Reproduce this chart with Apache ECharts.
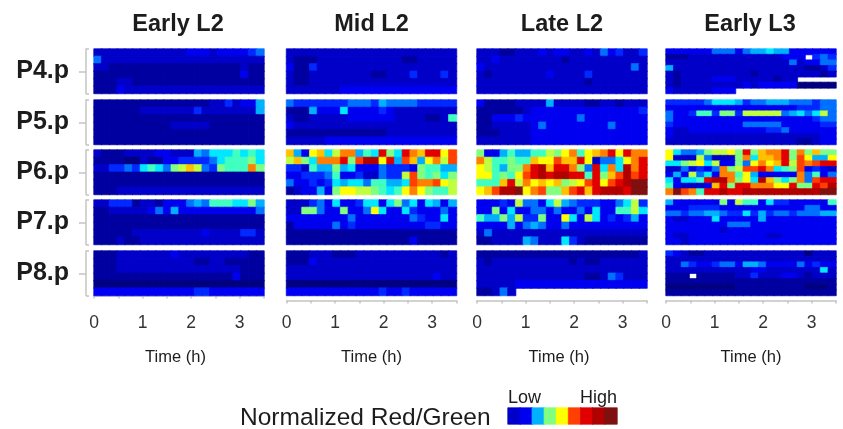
<!DOCTYPE html>
<html><head><meta charset="utf-8">
<style>html,body{margin:0;padding:0;background:#fff}#c{width:843px;height:429px;filter:blur(0.65px)}</style>
<script src="https://cdn.jsdelivr.net/npm/echarts@6/dist/echarts.min.js"></script>
</head><body><div id="c"></div>
<script>
const stages=['Early L2','Mid L2','Late L2','Early L3'];
const lines=['P4.p','P5.p','P6.p','P7.p','P8.p'];
const timeMax=3.5;
const timeLabels=[0,1,2,3];
const palette=['#000080','#0000a0','#0000c8','#0000f0','#0028ff','#0070ff','#00b0ff','#00e8ff','#40ffc0','#80ff80','#c0ff40','#ffff00','#ffc000','#ff8000','#ff4000','#e00000','#b00000','#801010'];
const legendLevels=[2,3,6,9,11,14,15,16,17];
const _=null;

const el2p4=[[2,2,2,2,2,2,2,2,2,2,2,2,3,3,3,2,3,3,3,3,4,5],
[5,2,2,2,2,2,2,2,2,2,2,2,2,2,2,2,2,2,2,2,2,2],
[2,2,1,1,1,1,1,1,1,1,1,1,1,1,1,1,1,1,1,2,1,1],
[1,1,1,1,1,1,1,1,1,1,1,1,1,1,1,1,1,1,1,3,1,1],
[1,1,1,2,2,1,1,1,1,1,1,1,1,1,1,1,1,1,1,1,1,1],
[1,1,1,3,2,2,2,2,2,2,2,2,2,2,2,2,2,2,2,2,2,2]];
const el2p5=[[1,1,1,1,1,1,1,1,1,1,1,1,1,1,1,2,2,4,2,3,3,6],
[1,1,1,1,1,1,2,2,2,2,2,2,2,4,2,2,2,2,2,2,2,6],
[1,1,1,1,1,1,1,1,1,1,1,1,1,1,1,1,1,1,1,1,1,1],
[1,1,1,1,1,1,1,1,1,1,2,2,2,2,2,1,1,1,1,1,1,1],
[1,1,1,1,1,1,1,1,1,1,1,1,1,1,1,1,1,1,1,1,1,1],
[1,1,1,1,1,1,1,1,1,1,1,1,1,1,1,1,1,1,1,1,1,1]];
const el2p6=[[2,1,1,1,2,2,2,2,3,3,2,2,2,6,5,7,7,7,8,7,8,7],
[1,1,1,1,0,0,2,1,1,3,3,4,4,4,4,5,7,8,8,8,9,7],
[2,2,4,4,5,4,7,8,7,5,9,10,12,10,5,4,9,8,8,8,13,9],
[1,1,1,1,1,1,1,1,1,1,1,1,1,1,1,1,1,1,1,1,1,1],
[1,1,1,1,1,1,1,1,1,1,1,1,1,1,1,1,1,1,1,1,1,1],
[1,1,1,2,2,2,2,2,2,2,2,2,2,2,2,2,2,2,2,2,2,2]];
const el2p7=[[2,2,4,4,4,1,2,2,1,3,3,3,5,6,5,8,8,8,7,7,9,6],
[1,1,2,2,2,2,2,3,5,3,6,3,3,3,3,3,3,3,3,3,3,5],
[1,1,1,1,1,1,1,1,1,1,1,1,1,1,1,1,1,1,1,1,1,1],
[1,1,1,1,1,1,1,1,1,1,1,1,1,1,1,1,1,1,1,1,1,1],
[1,1,1,1,1,2,2,2,2,2,2,2,2,2,3,2,2,2,2,4,4,2],
[1,1,1,2,1,1,2,2,2,2,2,2,2,2,2,2,2,2,2,2,2,2]];
const el2p8=[[1,1,1,2,2,2,2,2,2,2,3,2,2,2,2,2,2,2,2,2,1,1],
[1,1,1,2,2,2,2,2,2,2,2,2,2,1,1,2,2,1,1,1,1,1],
[1,1,1,2,2,2,2,2,2,2,2,2,2,2,2,2,2,2,2,1,1,1],
[1,1,1,1,1,1,1,1,1,1,1,1,1,1,1,1,1,1,3,1,1,1],
[0,0,0,0,0,0,0,0,0,0,0,0,0,0,0,0,0,0,0,0,0,0],
[3,3,3,3,3,3,3,3,3,3,3,3,3,4,4,3,3,3,3,3,3,3]];

const ml2p4=[[2,2,2,2,2,2,2,2,2,2,2,2,2,2,2,2,2,2,2,2,2,2],
[2,1,1,1,2,2,2,2,2,2,2,2,2,2,2,1,1,2,2,2,2,2],
[3,1,1,4,2,2,2,2,2,2,2,2,2,2,2,2,2,2,2,2,2,2],
[2,1,1,2,2,2,2,2,2,2,2,1,1,2,2,2,4,2,2,2,4,2],
[2,1,1,2,2,2,2,2,2,2,2,2,2,2,2,2,2,2,2,2,2,2],
[2,2,2,2,2,2,2,3,3,3,3,3,3,3,3,3,3,3,3,3,3,3]];
const ml2p5=[[5,4,4,4,4,4,4,4,5,5,5,4,6,5,5,5,5,4,4,4,4,4],
[1,1,1,6,3,3,3,7,3,3,3,3,4,3,2,2,2,2,2,2,2,2],
[2,1,1,2,2,2,2,2,3,3,3,3,3,3,2,2,2,2,1,1,2,8],
[3,2,2,2,2,2,2,2,2,2,2,2,2,2,2,2,2,2,2,2,2,2],
[1,1,1,1,1,1,1,1,1,1,1,1,1,2,2,2,2,2,2,2,2,2],
[2,2,2,2,2,3,3,3,3,3,3,3,3,3,3,3,3,3,3,3,3,3]];
const ml2p6=[[12,6,3,11,12,7,10,13,13,6,8,7,15,9,7,15,13,12,15,15,11,14],
[10,12,9,7,13,13,13,15,9,14,16,16,11,15,6,14,12,6,11,13,10,14],
[4,4,2,8,6,6,9,6,7,3,3,3,5,4,4,4,3,9,8,8,6,6],
[3,3,4,4,4,5,8,3,3,4,2,2,5,4,4,10,14,9,8,9,7,9],
[5,3,3,4,3,4,7,6,7,7,5,8,8,6,6,7,14,13,13,14,11,10],
[1,2,3,3,6,3,9,11,11,10,10,9,8,7,8,11,13,11,9,8,8,10]];
const ml2p7=[[2,2,2,4,5,3,7,3,3,4,7,7,3,7,9,5,7,3,7,6,3,6],
[2,2,9,9,5,3,3,9,3,3,5,11,7,3,3,7,4,3,3,3,5,3],
[3,3,3,3,3,3,3,3,5,3,3,3,3,3,3,3,5,4,3,3,7,3],
[1,3,3,3,3,3,5,3,4,3,3,3,3,3,3,3,3,3,4,4,3,3],
[1,1,1,1,1,1,1,1,1,1,1,1,1,1,1,1,1,1,1,1,1,1],
[1,1,1,1,1,1,1,1,1,1,1,1,1,1,1,1,3,1,1,1,1,1]];
const ml2p8=[[1,1,1,2,2,2,1,1,1,2,2,2,2,2,2,2,2,2,2,2,1,2],
[1,1,1,3,2,2,2,2,2,2,2,2,2,2,2,2,2,2,2,2,2,2],
[2,2,2,2,2,2,2,2,2,2,2,2,2,2,2,2,2,2,2,2,2,2],
[2,2,2,2,2,2,2,2,2,2,2,2,2,2,2,2,2,2,2,3,2,2],
[0,0,0,0,0,0,0,0,0,0,0,0,0,0,0,0,0,0,0,0,0,0],
[3,3,3,3,3,3,3,3,3,3,3,3,4,3,3,4,3,3,3,3,3,3]];

const ll2p4=[[2,2,2,1,1,2,2,2,3,2,3,3,2,2,3,2,5,3,4,2,2,4],
[2,2,3,2,2,2,2,2,2,2,2,1,2,2,2,2,2,2,2,2,2,2],
[3,2,2,2,2,2,2,2,2,2,2,2,2,2,2,2,2,2,2,2,5,2],
[2,1,2,2,2,2,2,2,2,3,2,2,2,2,4,2,2,2,2,2,2,2],
[2,2,2,2,2,2,2,2,2,2,2,2,2,2,1,2,2,2,2,2,2,2],
[2,2,2,2,2,2,2,2,2,2,2,2,2,2,2,2,2,2,2,2,2,2]];
const ll2p5=[[3,1,1,1,1,2,2,2,2,6,2,2,2,2,1,1,2,2,1,2,2,2],
[1,1,1,1,1,1,2,3,3,3,3,3,3,3,3,3,3,3,3,3,3,4],
[1,1,3,3,3,4,3,3,3,3,3,3,3,5,3,3,3,3,3,3,3,3],
[1,1,2,2,2,2,2,3,5,3,3,3,3,3,3,3,3,5,3,3,3,3],
[1,1,1,2,2,2,2,3,3,3,3,3,3,3,3,3,3,3,3,3,3,3],
[2,2,2,2,2,2,2,3,3,3,3,3,3,3,3,3,3,3,3,3,3,3]];
const ll2p6=[[9,3,3,6,8,6,6,8,8,10,9,11,13,8,11,12,13,15,11,15,13,13],
[13,10,8,8,9,8,8,12,11,11,14,12,12,15,11,2,5,5,7,11,13,15],
[11,10,8,6,9,9,13,15,16,12,15,15,13,9,5,15,7,13,7,16,13,15],
[11,11,8,9,8,11,14,15,16,15,16,16,15,15,8,15,9,12,14,16,14,15],
[8,8,8,12,15,10,13,11,12,11,12,9,10,11,14,15,11,14,15,16,17,17],
[11,12,14,16,16,17,11,13,14,9,9,12,14,15,12,15,16,16,16,15,17,17]];
const ll2p7=[[3,3,3,4,3,10,5,5,3,7,10,6,5,4,4,4,3,3,5,7,10,4],
[3,3,9,3,7,3,3,5,5,3,5,3,3,5,3,7,3,3,8,8,10,7],
[8,6,6,9,6,10,4,4,9,3,3,11,7,3,10,7,3,4,3,4,6,3],
[3,3,3,3,6,3,5,6,5,3,3,5,3,3,3,3,3,3,3,3,3,3],
[2,5,2,2,2,2,2,2,2,2,2,2,2,2,2,2,2,2,2,2,2,2],
[1,1,2,2,2,2,6,5,2,2,2,7,4,2,1,1,1,1,1,1,1,1]];
const ll2p8=[[1,1,1,1,1,1,1,1,1,1,1,1,1,1,1,1,1,1,1,1,1,2],
[2,1,2,2,2,2,2,2,2,2,2,2,1,2,1,1,2,2,2,2,2,2],
[2,2,2,2,2,2,2,2,2,2,2,2,2,2,2,2,2,2,2,2,2,2],
[2,2,2,2,2,2,2,2,2,2,2,2,2,2,1,1,2,5,4,2,2,2],
[2,2,2,2,2,3,3,3,3,3,3,3,3,3,3,3,3,3,3,3,3,3],
[1,1,2,5,2,_,_,_,_,_,_,_,_,_,_,_,_,_,_,_,_,_]];

const el3p4=[[3,3,3,3,3,3,5,5,5,3,5,6,6,7,6,6,3,3,3,3,3,3],
[1,1,1,2,2,2,2,2,2,2,2,2,2,2,2,3,3,3,_,4,5,4],
[2,2,2,2,2,2,2,2,2,2,2,2,2,2,2,2,5,2,3,3,5,5],
[6,2,2,2,2,2,2,2,2,2,2,2,2,2,2,2,2,2,1,1,2,4],
[2,1,2,2,2,2,2,2,2,2,2,1,2,2,2,2,2,2,2,2,1,2],
[2,1,2,2,2,2,3,3,3,2,2,2,2,2,1,2,2,_,_,_,_,_],
[2,1,2,2,2,2,2,2,2,2,3,2,3,3,3,3,3,0,0,0,0,0],
[3,2,2,2,2,2,3,3,3,_,_,_,_,_,_,_,_,_,_,_,_,_]];
const el3p5=[[4,4,4,4,4,5,7,7,7,6,4,5,5,6,6,6,5,5,5,4,5,5],
[3,3,3,3,3,3,3,3,3,3,3,3,3,3,3,3,3,4,4,4,5,5],
[5,3,3,4,8,8,4,9,9,4,10,10,10,10,10,5,6,7,5,7,10,5],
[5,3,3,3,3,3,3,3,3,3,3,3,3,3,3,3,3,3,3,4,5,5],
[4,3,3,3,3,3,3,3,3,3,5,5,5,5,5,3,3,3,3,3,4,4],
[3,2,2,3,3,3,3,3,3,3,3,3,3,4,4,5,3,3,3,3,3,3],
[3,2,2,2,2,2,2,2,2,2,2,2,2,2,2,2,2,2,2,2,3,3],
[2,2,2,2,2,2,2,2,2,2,2,2,2,2,2,2,2,1,1,2,3,3]];
const el3p6=[[11,7,5,5,6,9,10,10,11,9,15,9,12,13,13,15,9,13,9,12,9,9],
[11,2,2,2,10,5,2,2,2,9,13,7,12,12,13,15,9,14,11,6,6,11],
[7,7,9,10,11,7,10,3,3,9,5,11,13,11,12,15,10,14,13,14,15,15],
[2,2,5,3,4,3,5,13,9,10,14,14,15,13,7,8,9,14,3,4,3,2],
[3,6,3,10,5,7,3,13,13,8,11,6,3,3,3,3,3,13,5,8,3,5],
[7,3,7,7,8,15,16,16,13,9,11,7,16,12,9,7,9,13,5,14,15,15],
[8,3,2,2,2,3,12,15,9,15,15,13,13,13,11,11,15,9,9,15,14,16],
[13,17,14,13,8,15,15,16,15,15,16,16,16,16,16,16,16,16,16,16,17,17]];
const el3p7=[[6,3,3,3,3,3,3,9,3,10,8,8,3,7,4,4,3,3,3,3,3,8],
[3,3,3,4,4,4,4,3,3,3,3,3,3,3,3,3,3,3,5,5,3,3],
[5,5,4,5,5,6,6,5,4,4,7,4,6,4,5,5,4,5,5,5,6,6],
[3,2,2,3,3,3,7,3,3,3,3,3,6,3,3,3,3,3,3,3,3,3],
[3,3,3,3,3,3,3,3,5,5,5,3,3,3,3,3,3,3,3,3,3,3],
[3,3,3,3,3,3,3,2,3,3,3,3,3,3,3,3,3,3,3,3,3,3],
[3,2,2,3,3,3,3,3,3,3,3,3,3,2,2,3,3,3,3,3,3,3],
[3,3,2,3,3,3,3,3,3,3,3,3,3,3,3,3,3,3,3,3,3,3]];
const el3p8=[[4,3,2,1,1,2,2,2,2,2,2,2,2,2,2,2,2,2,0,2,2,2],
[2,2,2,2,2,2,2,2,2,2,2,2,2,2,2,2,2,2,2,2,2,2],
[2,2,5,4,3,3,4,5,5,3,6,6,5,3,3,3,3,5,3,4,3,3],
[2,2,2,2,2,2,2,2,2,2,2,3,3,2,2,2,2,2,2,2,7,2],
[1,1,1,_,1,1,1,1,1,2,2,4,2,2,2,3,3,2,1,2,2,2],
[1,1,1,1,1,1,1,1,1,1,1,1,1,1,1,1,1,1,1,1,1,1],
[0,0,0,0,0,0,0,0,0,1,1,1,1,1,1,1,1,1,0,0,0,1],
[1,1,1,1,1,1,1,1,1,1,1,1,1,1,1,1,1,1,1,1,1,1]];

const panels=[[el2p4,el2p5,el2p6,el2p7,el2p8],[ml2p4,ml2p5,ml2p6,ml2p7,ml2p8],[ll2p4,ll2p5,ll2p6,ll2p7,ll2p8],[el3p4,el3p5,el3p6,el3p7,el3p8]];

const colLeft=[94,286.5,477,666], panelW=170;
const titleCentre=[178,371.5,562,750];
const nameShift=[3.5,0,3,0];
const rowTop=[49,100,150,200,251], panelH=44.5;
const font='"Liberation Sans",Arial,sans-serif';
const gray='#c4c4c4', ink='#1c1c1c';

const cell=(x,y,v)=>({value:[x,y,v],itemStyle:{borderColor:palette[v],borderWidth:0.7}});
const grid=[],xAxis=[],yAxis=[],series=[],title=[];
panels.forEach((col,c)=>{
  title.push({text:stages[c],left:titleCentre[c],top:13,padding:0,textAlign:'center',
    textStyle:{fontFamily:font,fontWeight:'bold',fontSize:23.5,color:ink}});
  col.forEach((rows,r)=>{
    const g=grid.length;
    grid.push({left:colLeft[c],top:rowTop[r],width:panelW,height:panelH,show:false});
    const xi=xAxis.length, yi=yAxis.length;
    xAxis.push({type:'category',gridIndex:g,data:rows[0].map((v,i)=>i),show:false});
    yAxis.push({type:'category',gridIndex:g,data:rows.map((v,i)=>i),inverse:true,show:false});
    if(r===4){
      xAxis.push({type:'value',gridIndex:g,position:'bottom',offset:5,min:0,max:timeMax,interval:0.5,
        axisLine:{show:true,lineStyle:{color:gray,width:1.5}},
        axisTick:{show:true,length:3,lineStyle:{color:gray,width:1.5}},
        splitLine:{show:false},
        axisLabel:{customValues:timeLabels,margin:14,fontFamily:font,fontSize:17.5,color:'#333',formatter:v=>String(v)},
        name:'Time (h)',nameLocation:'middle',nameGap:48,
        nameTextStyle:{fontFamily:font,fontSize:16.5,color:ink,padding:[0,nameShift[c]*2,0,0]}});
    }
    if(c===0){
      yAxis.push({type:'value',gridIndex:g,position:'left',offset:8,min:0,max:1,
        axisLine:{show:true,lineStyle:{color:gray,width:1.5}},
        axisTick:{show:true,customValues:[0.5],length:7,lineStyle:{color:gray,width:1.5}},
        splitLine:{show:false},
        axisLabel:{customValues:[0.5],margin:17,fontFamily:font,fontWeight:'bold',fontSize:25,color:ink,formatter:()=>lines[r]}});
      yAxis.push({type:'value',gridIndex:g,position:'left',offset:8,min:0,max:1,
        axisLine:{show:false},
        axisTick:{show:true,inside:true,customValues:[0,1],length:3,lineStyle:{color:gray,width:1.5}},
        splitLine:{show:false},axisLabel:{show:false}});
    }
    const data=[];
    rows.forEach((row,y)=>row.forEach((v,x)=>{if(v!==null)data.push(cell(x,y,v));}));
    series.push({type:'heatmap',xAxisIndex:xi,yAxisIndex:yi,data,silent:true,progressive:0,animation:false});
  });
});
// colour key
const gKey=grid.length;
grid.push({left:508,top:408,width:109,height:16,show:false});
xAxis.push({type:'category',gridIndex:gKey,data:legendLevels.map((v,i)=>i),show:false});
yAxis.push({type:'category',gridIndex:gKey,data:[0],show:false});
series.push({type:'heatmap',xAxisIndex:xAxis.length-1,yAxisIndex:yAxis.length-1,silent:true,animation:false,
  data:legendLevels.map((v,i)=>cell(i,0,v))});
title.push({text:'Normalized Red/Green',left:240,top:406,padding:0,textStyle:{fontFamily:font,fontWeight:'normal',fontSize:24.5,color:ink}});
title.push({text:'Low',left:508,top:389,padding:0,textStyle:{fontFamily:font,fontWeight:'normal',fontSize:18,color:ink}});
title.push({text:'High',left:580,top:389,padding:0,textStyle:{fontFamily:font,fontWeight:'normal',fontSize:18,color:ink}});

const chart=echarts.init(document.getElementById('c'),null,{renderer:'canvas'});
chart.setOption({animation:false,backgroundColor:'#fff',title,grid,xAxis,yAxis,series,
  visualMap:{show:false,type:'continuous',min:0,max:palette.length-1,inRange:{color:palette},seriesIndex:series.map((s,i)=>i)}});
</script></body></html>
